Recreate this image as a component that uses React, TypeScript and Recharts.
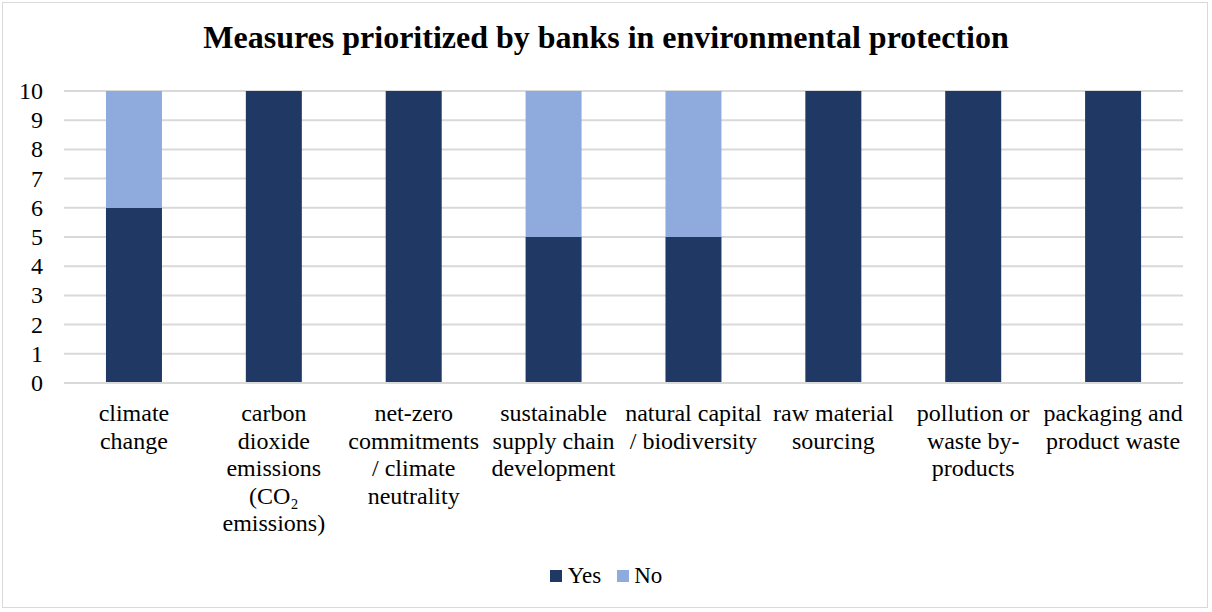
import React from "react";
import { BarChart, Bar, XAxis, YAxis, CartesianGrid } from "recharts";

const categories = [
  "climate\nchange",
  "carbon\ndioxide\nemissions\n(CO₂\nemissions)",
  "net-zero\ncommitments\n/ climate\nneutrality",
  "sustainable\nsupply chain\ndevelopment",
  "natural capital\n/ biodiversity",
  "raw material\nsourcing",
  "pollution or\nwaste by-\nproducts",
  "packaging and\nproduct waste",
];
const yesValues = [6, 10, 10, 5, 5, 10, 10, 10];
const noValues = [4, 0, 0, 5, 5, 0, 0, 0];
const yTicks = [0, 1, 2, 3, 4, 5, 6, 7, 8, 9, 10];

const data = categories.map((c, i) => ({ name: c, Yes: yesValues[i], No: noValues[i] }));

const FONT = "Liberation Serif, serif";
const DARK = "#203864";
const LIGHT = "#8FAADC";

const XTick = (props: any) => {
  const { x, y, payload } = props;
  const lines = String(payload.value).split("\n");
  return (
    <g transform={`translate(${x},${y})`}>
      {lines.map((l, i) => (
        <text key={i} x={0} y={i * 27.5} textAnchor="middle" dominantBaseline="central" style={{ fontFamily: FONT, fontSize: 24 }} fill="#000">
          {l}
        </text>
      ))}
    </g>
  );
};

const YTick = (props: any) => {
  const { x, y, payload } = props;
  return (
    <text x={x} y={y} textAnchor="end" dominantBaseline="central" style={{ fontFamily: FONT, fontSize: 24 }} fill="#000">
      {payload.value}
    </text>
  );
};

export default function App() {
  return (
    <div style={{ position: "absolute", left: 0, top: 0, width: 1212, height: 612, background: "#fff" }}>
      <div style={{ position: "absolute", left: 2, top: 2, width: 1206, height: 606, border: "1px solid #d9d9d9", boxSizing: "border-box" }} />
      <div style={{ position: "absolute", left: 0, top: 17, width: 1212, textAlign: "center", fontFamily: FONT, fontWeight: "bold", fontSize: 32, color: "#000", lineHeight: "40px" }}>
        Measures prioritized by banks in environmental protection
      </div>
      <BarChart width={1212} height={612} data={data} margin={{ top: 91, right: 29, left: 0, bottom: 0 }} barCategoryGap="30%">
        <CartesianGrid vertical={false} stroke="#d9d9d9" strokeWidth={2} />
        <XAxis dataKey="name" interval={0} tick={<XTick />} tickLine={false} axisLine={{ stroke: "#d9d9d9", strokeWidth: 2 }} height={229} tickSize={0} tickMargin={30} />
        <YAxis domain={[0, 10]} ticks={yTicks} tick={<YTick />} axisLine={false} tickLine={false} width={64} tickSize={0} tickMargin={21} interval={0} />
        <Bar dataKey="Yes" stackId="a" fill={DARK} isAnimationActive={false} />
        <Bar dataKey="No" stackId="a" fill={LIGHT} isAnimationActive={false} />
      </BarChart>
      <div style={{ position: "absolute", left: 0, top: 562, width: 1212, display: "flex", justifyContent: "center", alignItems: "center", fontFamily: FONT, fontSize: 23, color: "#000", lineHeight: "28px" }}>
        <span style={{ display: "inline-block", width: 12, height: 12, background: DARK, marginRight: 6 }} />
        <span style={{ marginRight: 16 }}>Yes</span>
        <span style={{ display: "inline-block", width: 12, height: 12, background: LIGHT, marginRight: 5 }} />
        <span>No</span>
      </div>
    </div>
  );
}
